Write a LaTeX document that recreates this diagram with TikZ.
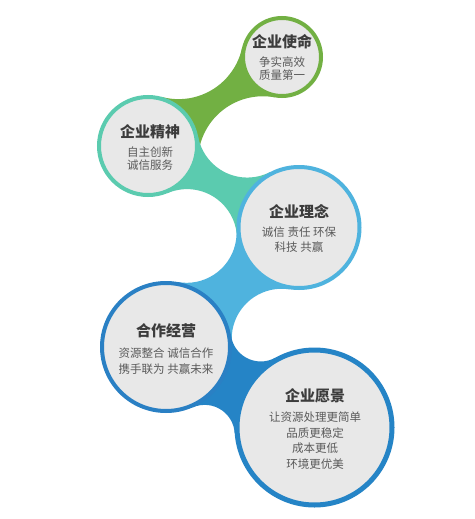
\documentclass[tikz,border=0pt]{standalone}
\usepackage{fontspec}
\setmainfont{Noto Sans CJK SC}
\definecolor{cgreen}{HTML}{72B043}
\definecolor{cteal}{HTML}{5BCBAF}
\definecolor{clblue}{HTML}{4FB3DE}
\definecolor{cblue}{HTML}{2A80C4}
\definecolor{cdblue}{HTML}{2584C6}
\definecolor{bubfill}{HTML}{E8E8E8}
\definecolor{ttlcol}{HTML}{3C3C3C}
\definecolor{bodcol}{HTML}{5A5A5A}
\begin{document}
\begin{tikzpicture}[x=1pt,y=-1pt,
  bub/.style={circle, fill=bubfill, line width=4pt, inner sep=0pt},
  ttl/.style={font=\bfseries\fontsize{15}{18}\selectfont, text=ttlcol, inner sep=0pt},
  bod/.style={font=\fontsize{11.5}{#1}\selectfont, text=bodcol, align=center, inner sep=0pt},
  bod/.default=13]
\useasboundingbox[fill=white] (0,0) rectangle (474,519);
% centres
\coordinate (c1) at (282,57);
\coordinate (c2) at (148,146);
\coordinate (c3) at (299,227.5);
\coordinate (c4) at (166,347);
\coordinate (c5) at (314.5,427.5);
% tangent points of the concave bridge sides
\coordinate (ta2) at (198.51,152.69);
\coordinate (ta1) at (242.02,48.17);
\coordinate (tb2) at (167.72,193.01);
\coordinate (tb3) at (270.26,171.95);
\coordinate (tc4) at (231.83,342.30);
\coordinate (tc3) at (236.49,230.46);
\coordinate (td4) at (192.62,407.42);
\coordinate (td5) at (275.40,357.65);
% bridges
\fill[cgreen] (c2) -- (ta2) arc[start angle=172.45,end angle=79.64,radius=65pt]
  -- (c1) -- (ta1) arc[start angle=-12.46,end angle=-105.28,radius=65pt] -- cycle;
\fill[cteal] (c2) -- (tb2) arc[start angle=112.76,end angle=5.93,radius=50pt]
  -- (c3) -- (tb3) arc[start angle=-62.64,end angle=-169.47,radius=50pt] -- cycle;
\fill[clblue] (c4) -- (tc4) arc[start angle=184.08,end angle=81.17,radius=50pt]
  -- (c3) -- (tc3) arc[start angle=2.71,end angle=-100.20,radius=50pt] -- cycle;
\fill[cdblue] (c4) -- (td4) arc[start angle=113.78,end angle=3.84,radius=30pt]
  -- (c5) -- (td5) arc[start angle=-60.76,end angle=-170.69,radius=30pt] -- cycle;
% bubbles
\node[bub, draw=cgreen, minimum size=78pt] (m1) at (c1) {};
\node[bub, draw=cteal, minimum size=98pt] (m2) at (c2) {};
\node[bub, draw=clblue, minimum size=121pt] (m3) at (c3) {};
\node[bub, draw=cblue, minimum size=128pt] (m4) at (c4) {};
\node[bub, draw=cdblue, line width=5pt, minimum size=155pt] (m5) at (c5) {};
% texts
\node[ttl] (t1) at (282,42) {企业使命};
\node[bod] (b1) at (282,68.5) {争实高效\\质量第一};
\node[ttl] (t2) at (150,132) {企业精神};
\node[bod] (b2) at (150,158.5) {自主创新\\诚信服务};
\node[ttl] (t3) at (299,211) {企业理念};
\node[bod=15] (b3) at (299,239.5) {诚信 责任 环保\\科技 共赢};
\node[ttl] (t4) at (166,331) {合作经营};
\node[bod=16] (b4) at (166,361) {资源整合 诚信合作\\携手联为 共赢未来};
\node[ttl] (t5) at (315,396) {企业愿景};
\node[bod=15.7] (b5) at (315,440.5) {让资源处理更简单\\品质更稳定\\成本更低\\环境更优美};
\end{tikzpicture}
\end{document}
